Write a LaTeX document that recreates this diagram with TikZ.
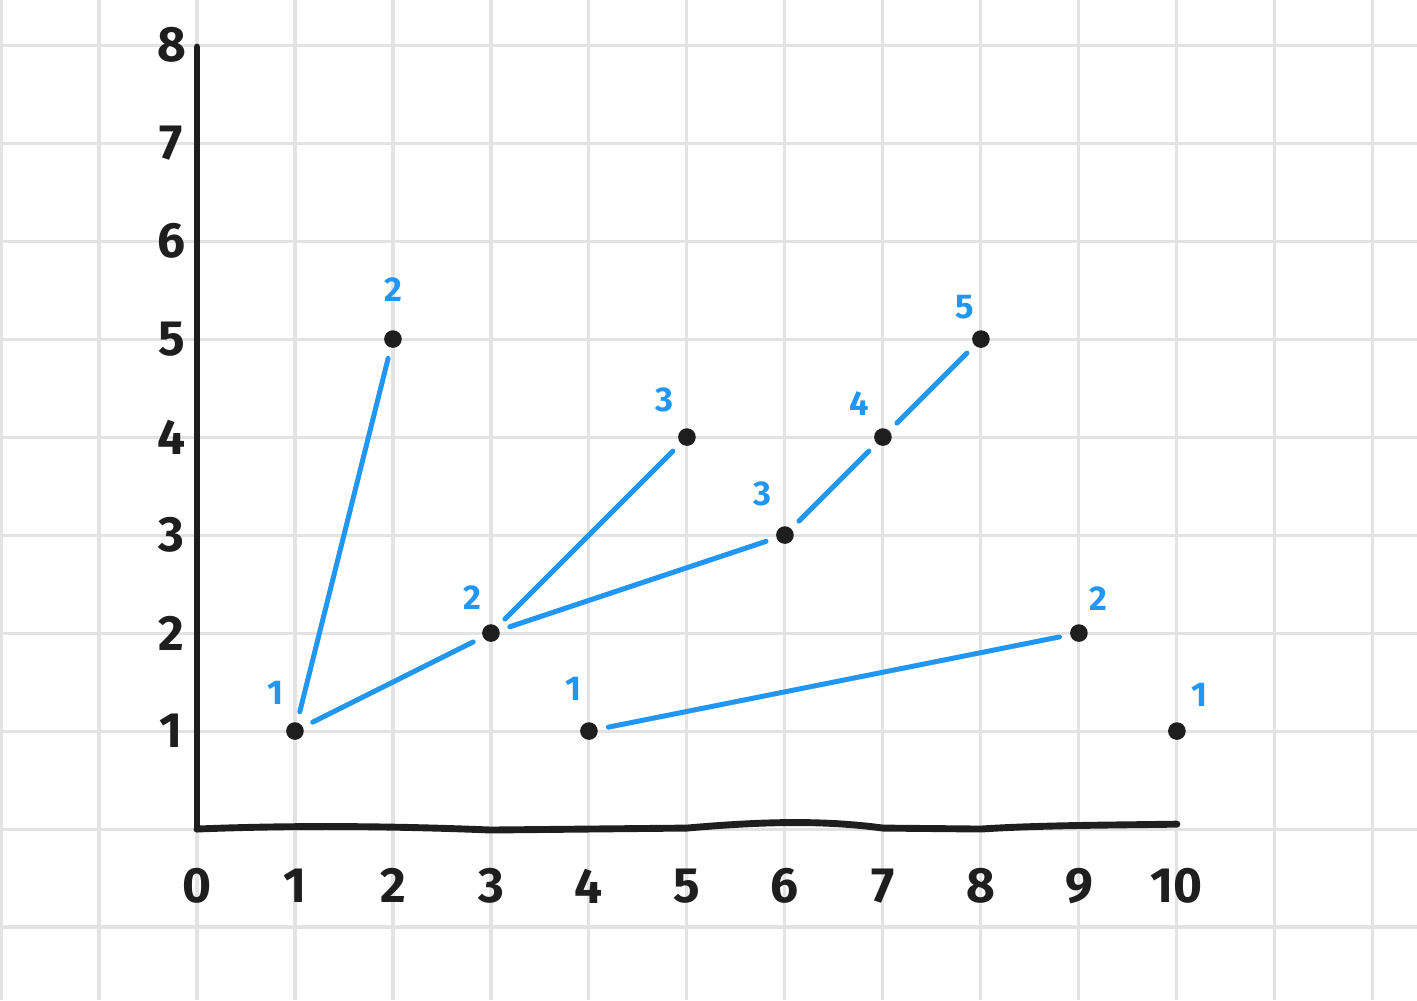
\documentclass[tikz,border=0pt]{standalone}
\usepackage{fontspec}
\setmainfont{Fira Sans}
\usetikzlibrary{positioning}
\definecolor{inkblack}{HTML}{1E1E1E}
\definecolor{inkblue}{HTML}{2196F3}
\definecolor{gridgray}{HTML}{E3E3E3}
\tikzset{
  dot/.style={circle,fill=inkblack,inner sep=0pt,minimum size=0.18cm},
  lbl/.style={text=inkblue,font=\bfseries\normalsize,inner sep=1pt},
  tick/.style={text=inkblack,font=\bfseries\Large,inner sep=0pt},
  edge/.style={draw=inkblue,line width=1.45pt,line cap=round,shorten <=3pt,shorten >=3pt},
  axis/.style={draw=inkblack,line width=2pt,line cap=round}
}

\begin{document}
\begin{tikzpicture}
            \useasboundingbox (-2.01,-1.745) rectangle (12.45,8.46);
            % grid
            \foreach \x in {-2,...,12} \draw[gridgray,line width=0.9pt] (\x,-1.745) -- (\x,8.46);
            \foreach \y in {-1,...,8} \draw[gridgray,line width=0.9pt] (-2.01,\y) -- (12.45,\y);
            % axes
            \coordinate (o) at (0,0);
            \coordinate (ytop) at (0,7.98);
            \coordinate (xend) at (10,0.05);
            \draw[axis] (ytop) -- (o);
            \draw[axis] (o) .. controls (1,0.04) and (2,0.03) .. (3,-0.01)
                -- (5,0.01) .. controls (5.8,0.08) and (6.4,0.09) .. (7,0.01)
                -- (8,0) .. controls (8.6,0.04) and (9.4,0.04) .. (xend);
            \foreach \y in {1,...,8} \node[tick] (ty\y) at (-0.26,\y) {\y};
            \foreach \x in {0,...,10} \node[tick] (tx\x) at (\x,-0.58) {\x};
            % points
            \node[dot, label={[lbl,label distance=4pt]108:1}] (p11) at (1,1) {};
            \node[dot, label={[lbl,label distance=7pt]90:2}] (p25) at (2,5) {};
            \node[dot, label={[lbl,label distance=3pt]105:2}] (p32) at (3,2) {};
            \node[dot, label={[lbl,label distance=4pt]115:3}] (p54) at (5,4) {};
            \node[dot, label={[lbl,label distance=5pt]110:3}] (p63) at (6,3) {};
            \node[dot, label={[lbl,label distance=3pt]119:4}] (p74) at (7,4) {};
            \node[dot, label={[lbl,label distance=2pt]100:5}] (p85) at (8,5) {};
            \node[dot, label={[lbl,label distance=5pt]97:1}] (p41) at (4,1) {};
            \node[dot, label={[lbl,label distance=3pt]72:2}] (p92) at (9,2) {};
            \node[dot, label={[lbl,label distance=4pt]62:1}] (p101) at (10,1) {};
            % paths
            \draw[edge] (p11) -- (p25);
            \draw[edge] (p11) -- (p32);
            \draw[edge] (p32) -- (p54);
            \draw[edge] (p32) -- (p63);
            \draw[edge] (p63) -- (p74);
            \draw[edge] (p74) -- (p85);
            \draw[edge] (p41) -- (p92);
\end{tikzpicture}
\end{document}
